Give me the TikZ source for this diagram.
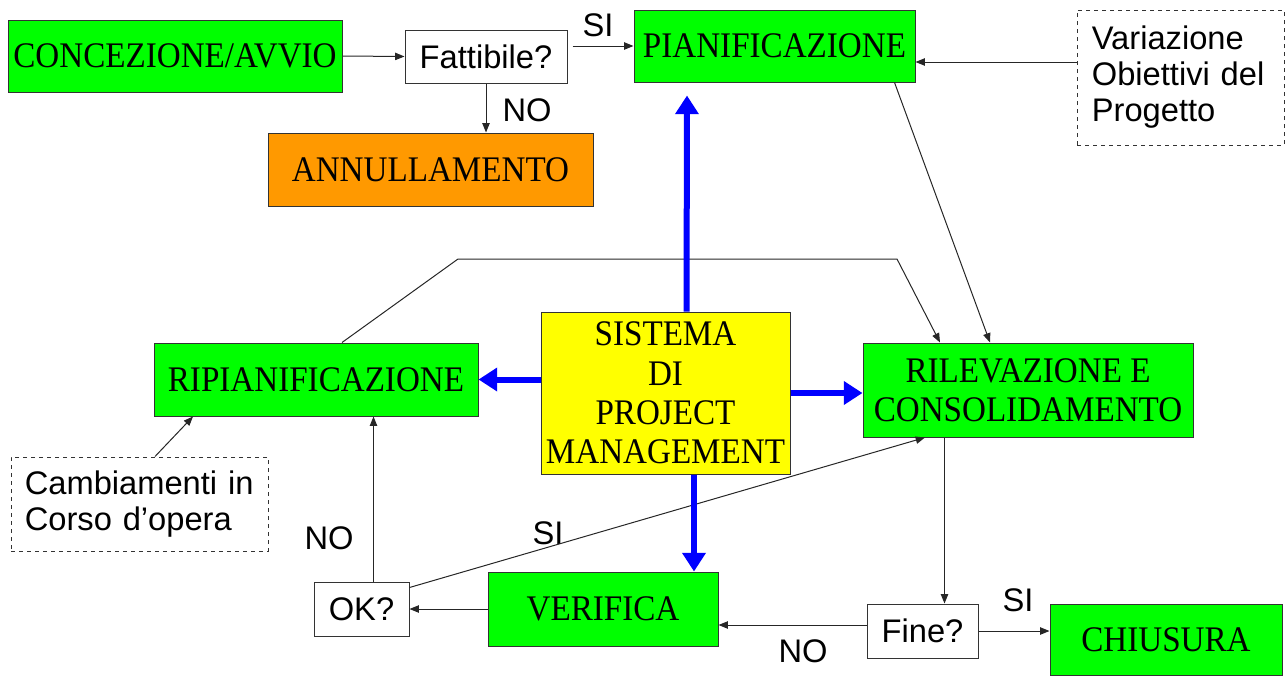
\documentclass[tikz,border=0pt]{standalone}
\usepackage{fontspec}
\setmainfont{Liberation Serif}
\setsansfont{Liberation Sans}
\newfontfamily\boxfont[FakeStretch=0.92]{Liberation Serif}
\usetikzlibrary{arrows.meta,calc}
\definecolor{boxgreen}{RGB}{0,255,0}
\definecolor{boxorange}{RGB}{255,153,0}
\definecolor{boxyellow}{RGB}{255,255,0}
\definecolor{arrowblue}{RGB}{0,0,255}

\begin{document}
\begin{tikzpicture}[x=0.75pt,y=-0.75pt,
  every node/.style={inner sep=0pt},
  phase/.style={draw=black!80,line width=0.75pt,fill=boxgreen,align=center,
    font=\boxfont\fontsize{27}{29.5}\selectfont},
  test/.style={draw=black!80,line width=0.75pt,fill=white,
    font=\sffamily\fontsize{24.5}{27}\selectfont},
  note/.style={draw=black!80,dashed,line width=0.75pt,align=left,
    font=\sffamily\fontsize{24.5}{27}\selectfont},
  answer/.style={font=\sffamily\fontsize{24.5}{27}\selectfont},
  flow/.style={black!85,line width=0.75pt,-{Triangle[length=7pt,width=5.5pt]}},
  main/.style={arrowblue,line width=4.5pt,-{Triangle[length=14pt,width=17pt]}}
]
\useasboundingbox (0,0) rectangle (1287,675);

% caselle
\node [phase,minimum width=250.5pt,minimum height=54pt] (concez) at (175,56) {CONCEZIONE/AVVIO};
\node [test,minimum width=121.5pt,minimum height=39.75pt] (fatt) at (486,56.5) {Fattibile?};
\node [phase,minimum width=210.75pt,minimum height=54pt] (pian) at (774.5,46) {PIANIFICAZIONE};
\node [phase,fill=boxorange,minimum width=243.75pt,minimum height=54.75pt] (annul) at (430.5,169.5) {ANNULLAMENTO};
\node [note,minimum width=155.25pt,minimum height=101.25pt,text width=133pt] (variaz) at (1180.5,77.5) {Variazione\\Obiettivi del\\Progetto};
\node [phase,fill=boxyellow,minimum width=186.75pt,minimum height=121.5pt] (sistema) at (665.5,393) {SISTEMA\\DI\\PROJECT\\MANAGEMENT};
\node [phase,minimum width=243pt,minimum height=54.75pt] (ripian) at (316,379.5) {RIPIANIFICAZIONE};
\node [phase,minimum width=247.5pt,minimum height=70.5pt] (rilev) at (1028,390) {RILEVAZIONE E\\CONSOLIDAMENTO};
\node [note,minimum width=192.75pt,minimum height=70.5pt,text width=172pt] (cambi) at (139.5,504) {Cambiamenti in\\Corso d'opera};
\node [test,minimum width=71.25pt,minimum height=40.5pt] (ok) at (361.5,609) {OK?};
\node [phase,minimum width=172.5pt,minimum height=55.5pt] (verif) at (603,609) {VERIFICA};
\node [test,minimum width=83.25pt,minimum height=40.5pt] (fine) at (922.5,631) {Fine?};
\node [phase,minimum width=174pt,minimum height=53.25pt] (chius) at (1166,639.5) {CHIUSURA};

% risposte
\node [answer] (si1) at (598,25) {SI};
\node [answer] (no1) at (527,110) {NO};
\node [answer] (no2) at (329,538) {NO};
\node [answer] (si2) at (548,533) {SI};
\node [answer] (si3) at (1018,600) {SI};
\node [answer] (no3) at (803,651) {NO};

% punti di aggancio
\coordinate (fout) at ($(fatt.east |- pian.west)+(5,0)$);
\coordinate (vin) at ($(pian.east)+(0,16)$);
\coordinate (okup) at ($(ok.north)+(12,0)$);
\coordinate (finein) at ($(fine.north)+(22,0)$);
\coordinate (fineout) at ($(fine.west)+(0,-6)$);
\coordinate (verin) at ($(verif.north)+(91,0)$);

% frecce sottili
\draw [flow] (concez.east) -- (fatt.west);
\draw [flow] (fout) -- (pian.west);
\draw [flow] (fatt.south) -- (fatt.south |- annul.north);
\draw [flow] (vin -| variaz.west) -- (vin);
\draw [flow] ($(pian.south)+(120,0)$) -- ($(rilev.north)+(-38,0)$);
\draw [flow] ($(ripian.north)+(26,0)$) -- (458,259) -- (897,259) -- ($(rilev.north)+(-88,0)$);
\draw [flow] ($(cambi.north)+(15.5,0)$) -- ($(ripian.south)+(-123,0)$);
\draw [flow] (okup) -- (okup |- ripian.south);
\draw [flow] ($(ok.north east)+(0,6)$) -- ($(rilev.south)+(-103,0)$);
\draw [flow] (verif.west) -- (ok.east);
\draw [flow] (finein |- rilev.south) -- (finein);
\draw [flow] (fineout) -- (fineout -| verif.east);
\draw [flow] (fine.east) -- (fine.east -| chius.west);

% frecce blu
\draw [main] ($(sistema.north)+(21,0)$) -- ($(pian.south)+(-87.5,13)$);
\draw [main] (ripian.east -| sistema.west) -- (ripian.east);
\draw [main] (sistema.east) -- (sistema.east -| rilev.west);
\draw [main] (verin |- sistema.south) -- (verin);
\end{tikzpicture}
\end{document}
